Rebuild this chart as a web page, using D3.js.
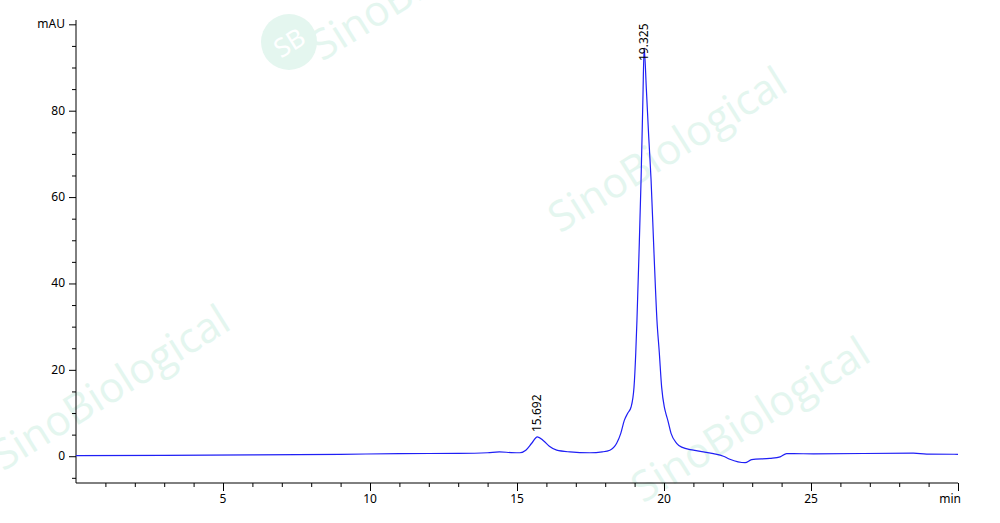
<!DOCTYPE html>
<html>
<head>
<meta charset="utf-8">
<script src="https://cdn.jsdelivr.net/npm/d3@7"></script>
<style>
  body { margin: 0; background: #fff; }
  svg { display: block; font-family: "Noto Sans", "DejaVu Sans", sans-serif; }
</style>
</head>
<body>
<svg id="svg" width="1000" height="523"></svg>
<script>
// chromatogram trace: [time (min), absorbance (mAU)]
const times = [0, 3, 6, 9, 11, 13, 14.0, 14.4, 14.8, 15.1, 15.3, 15.5, 15.692, 15.9, 16.1, 16.35, 16.8, 17.48, 17.9, 18.16,
  18.39, 18.53, 18.65, 18.77, 18.88, 18.98, 19.04, 19.08, 19.15, 19.22, 19.28, 19.325, 19.40, 19.48, 19.56, 19.66, 19.76,
  19.84, 19.92, 20.01, 20.06, 20.13, 20.24, 20.43, 20.6, 21.0, 21.68, 22.02, 22.24, 22.76, 22.98, 23.6, 23.95, 24.17,
  24.4, 25.08, 28.48, 28.93, 30.0];
const mAU = [0.15, 0.2, 0.3, 0.45, 0.6, 0.65, 0.8, 1.0, 0.85, 0.8, 1.4, 3.0, 4.5, 3.6, 2.3, 1.4, 1.0, 0.8, 1.0, 1.4,
  3.0, 5.3, 8.3, 10.0, 11.4, 16, 24, 31.5, 47, 64, 82, 94.5, 85, 74, 64, 47, 31.5,
  24, 16, 11.4, 10, 8.3, 5.3, 3.0, 2.1, 1.4, 0.6, 0, -0.7, -1.5, -0.8, -0.5, -0.15, 0.6,
  0.6, 0.55, 0.7, 0.5, 0.45];

// peak labels (label start height in mAU)
const peakTimes = [15.692, 19.325];
const labelAt = [5.6, 91.5];

const xMajor = [5, 10, 15, 20, 25, 30];
const yMajor = [0, 20, 40, 60, 80, 100];

const svg = d3.select("#svg");

// watermark
const marks = [[675, 162], [118, 400], [758, 432]];
const wm = svg.append("g").attr("fill", "#e4f6ef");
marks.forEach(m => {
  wm.append("text")
    .attr("transform", `translate(${m[0]},${m[1]}) rotate(-32)`)
    .attr("text-anchor", "middle")
    .attr("font-size", 42)
    .attr("font-family", "Open Sans, sans-serif")
    .text("SinoBiological");
});
wm.append("text")
  .attr("transform", "translate(322,62) rotate(-32)")
  .attr("font-size", 42)
  .attr("font-family", "Open Sans, sans-serif")
  .text("SinoBiological");
wm.append("circle").attr("cx", 289).attr("cy", 42).attr("r", 28);
wm.append("text").attr("x", 289).attr("y", 52).attr("text-anchor", "middle")
  .attr("fill", "#fff").attr("font-size", 26).attr("transform", "rotate(-32,289,42)").text("SB");

const xScale = d3.scaleLinear().domain([0, 30]).range([76, 958]);
const yScale = d3.scaleLinear().domain([-6.2, 101]).range([483, 20]);

const xAxis = svg.append("g")
  .attr("transform", "translate(0,483)")
  .call(d3.axisBottom(xScale).tickValues(d3.range(1, 31)).tickSize(4).tickFormat(""));
xAxis.selectAll(".tick line").filter(d => d % 5 === 0).attr("y2", 8);
xAxis.select(".domain").attr("d", `M${xScale(0)},0H${xScale(30)}`);

svg.append("g")
  .attr("transform", "translate(0,483)")
  .selectAll("text")
  .data(xMajor)
  .join("text")
  .attr("x", d => d === 30 ? xScale(d) + 3 : xScale(d))
  .attr("y", 20)
  .attr("text-anchor", d => d === 30 ? "end" : "middle")
  .attr("font-size", 12)
  .text(d => d === 30 ? "min" : d);

const yAxis = svg.append("g")
  .attr("transform", "translate(76,0)")
  .call(d3.axisLeft(yScale).tickValues(d3.range(-5, 101, 5)).tickSize(4).tickFormat(""));
yAxis.selectAll(".tick line").filter(d => d % 20 === 0).attr("x2", -7);
yAxis.select(".domain").attr("d", `M0,${yScale(101)}V${yScale(-6.2)}`);

svg.append("g")
  .selectAll("text")
  .data(yMajor)
  .join("text")
  .attr("x", 65)
  .attr("y", d => yScale(d) + 4)
  .attr("text-anchor", "end")
  .attr("font-size", 12)
  .text(d => d === 100 ? "mAU" : d);

const line = d3.line()
  .x((d, i) => xScale(times[i]))
  .y(d => yScale(d))
  .curve(d3.curveMonotoneX);

svg.append("path")
  .datum(mAU)
  .attr("fill", "none")
  .attr("stroke", "#1f1ff5")
  .attr("stroke-width", 1.2)
  .attr("d", line);

svg.append("g")
  .selectAll("text")
  .data(peakTimes)
  .join("text")
  .attr("transform", (d, i) => `translate(${xScale(d) + 4},${yScale(labelAt[i])}) rotate(-90)`)
  .attr("font-size", 12)
  .text(d => d.toFixed(3));
</script>
</body>
</html>
